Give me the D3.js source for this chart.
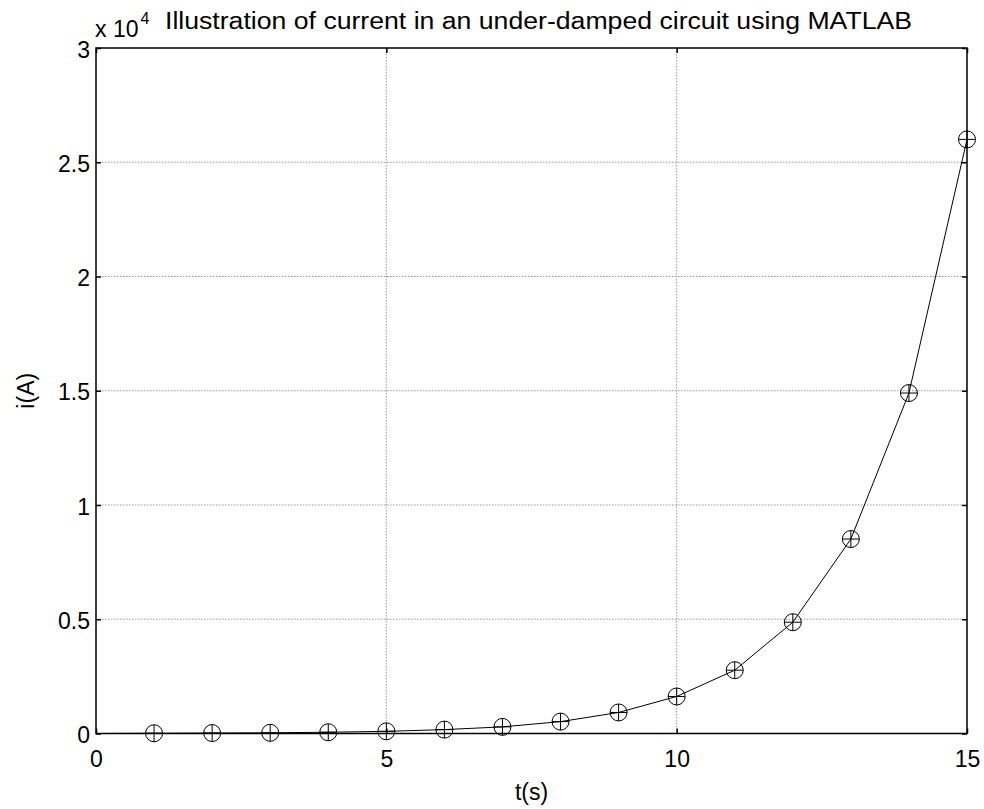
<!DOCTYPE html>
<html>
<head>
<meta charset="utf-8">
<script src="https://cdn.jsdelivr.net/npm/d3@7"></script>
<style>
  body { margin: 0; background: #fff; }
  text { font-family: "Liberation Sans", Arial, sans-serif; fill: #000; }
</style>
</head>
<body>
<svg id="chart"></svg>
<script>
// data
const tValues = [0, 1, 2, 3, 4, 5, 6, 7, 8, 9, 10, 11, 12, 13, 14, 15];
const iValues = [0, 10, 20, 30, 55, 95, 170, 290, 520, 920, 1620, 2770, 4870, 8510, 14900, 26000];
const xTicks = [0, 5, 10, 15];
const yTicks = [0, 0.5, 1, 1.5, 2, 2.5, 3];
const scaleExp = 4;

const width = 984, height = 809;
const margin = { top: 48, right: 17, bottom: 75.5, left: 96 };

const svg = d3.select("#chart").attr("width", width).attr("height", height);

const x = d3.scaleLinear().domain([0, 15]).range([margin.left, width - margin.right]);
const y = d3.scaleLinear().domain([0, 3]).range([height - margin.bottom, margin.top]);
const yv = v => y(v / Math.pow(10, scaleExp));

const x0 = margin.left, x1 = width - margin.right;
const y0 = height - margin.bottom, y1 = margin.top;

// grid
const grid = svg.append("g").attr("stroke", "#999").attr("stroke-width", 1).attr("stroke-dasharray", "1.5,1.5");
xTicks.slice(1, -1).forEach(t => grid.append("line").attr("x1", x(t)).attr("x2", x(t)).attr("y1", y0).attr("y2", y1));
yTicks.slice(1, -1).forEach(t => grid.append("line").attr("y1", y(t)).attr("y2", y(t)).attr("x1", x0).attr("x2", x1));

// axes (ticks inward, box)
svg.append("g").attr("transform", `translate(0,${y0})`)
    .call(d3.axisBottom(x).tickValues(xTicks).tickSize(-5).tickPadding(17).tickFormat(d3.format("d")))
    .call(g => g.select(".domain").remove())
    .selectAll("text").style("font-size", "23px");
svg.append("g").attr("transform", `translate(0,${y1})`)
    .call(d3.axisTop(x).tickValues(xTicks).tickSize(-5).tickFormat(""))
    .call(g => g.select(".domain").remove());
svg.append("g").attr("transform", `translate(${x0},0)`)
    .call(d3.axisLeft(y).tickValues(yTicks).tickSize(-5).tickPadding(6).tickFormat(d => d3.format("")(d)))
    .call(g => g.select(".domain").remove())
    .selectAll("text").style("font-size", "23px").attr("dy", "0.4em");
svg.append("g").attr("transform", `translate(${x1},0)`)
    .call(d3.axisRight(y).tickValues(yTicks).tickSize(-5).tickFormat(""))
    .call(g => g.select(".domain").remove());
svg.selectAll(".tick line").attr("stroke", "#000").attr("stroke-width", 1.5);

svg.append("rect").attr("x", x0).attr("y", y1).attr("width", x1 - x0).attr("height", y0 - y1)
    .attr("fill", "none").attr("stroke", "#000").attr("stroke-width", 1.5);

// line
const line = d3.line().x((d, i) => x(tValues[i])).y(d => yv(d));
svg.append("path").datum(iValues).attr("d", line)
    .attr("fill", "none").attr("stroke", "#000").attr("stroke-width", 1);

// markers: circle + plus
const marks = svg.append("g").selectAll("g")
    .data(iValues.map((v, i) => ({ t: tValues[i], v })).filter(d => d.t > 0))
    .enter().append("g")
    .attr("transform", d => `translate(${x(d.t)},${yv(d.v)})`);
marks.append("circle").attr("r", 8.5).attr("fill", "none").attr("stroke", "#000").attr("stroke-width", 1);
marks.append("path").attr("d", "M-8.5,0H8.5M0,-8.5V8.5").attr("stroke", "#000").attr("stroke-width", 1);

// scale factor and title
const sf = svg.append("text").attr("x", x0 - 1).attr("y", 37).style("font-size", "23px");
sf.append("tspan").text("x 10");
sf.append("tspan").attr("dy", -13).attr("dx", 2).style("font-size", "16px").text(scaleExp);
svg.append("text").attr("x", 165).attr("y", 29)
    .attr("textLength", 747).attr("lengthAdjust", "spacingAndGlyphs")
    .style("font-size", "23px").text("Illustration of current in an under-damped circuit using MATLAB");

// axis labels
svg.append("text").attr("x", (x0 + x1) / 2).attr("y", 800).attr("text-anchor", "middle")
    .style("font-size", "23px").text("t(s)");
svg.append("text").attr("transform", `translate(34,${(y0 + y1) / 2}) rotate(-90)`)
    .attr("text-anchor", "middle").style("font-size", "23px").text("i(A)");
</script>
</body>
</html>
